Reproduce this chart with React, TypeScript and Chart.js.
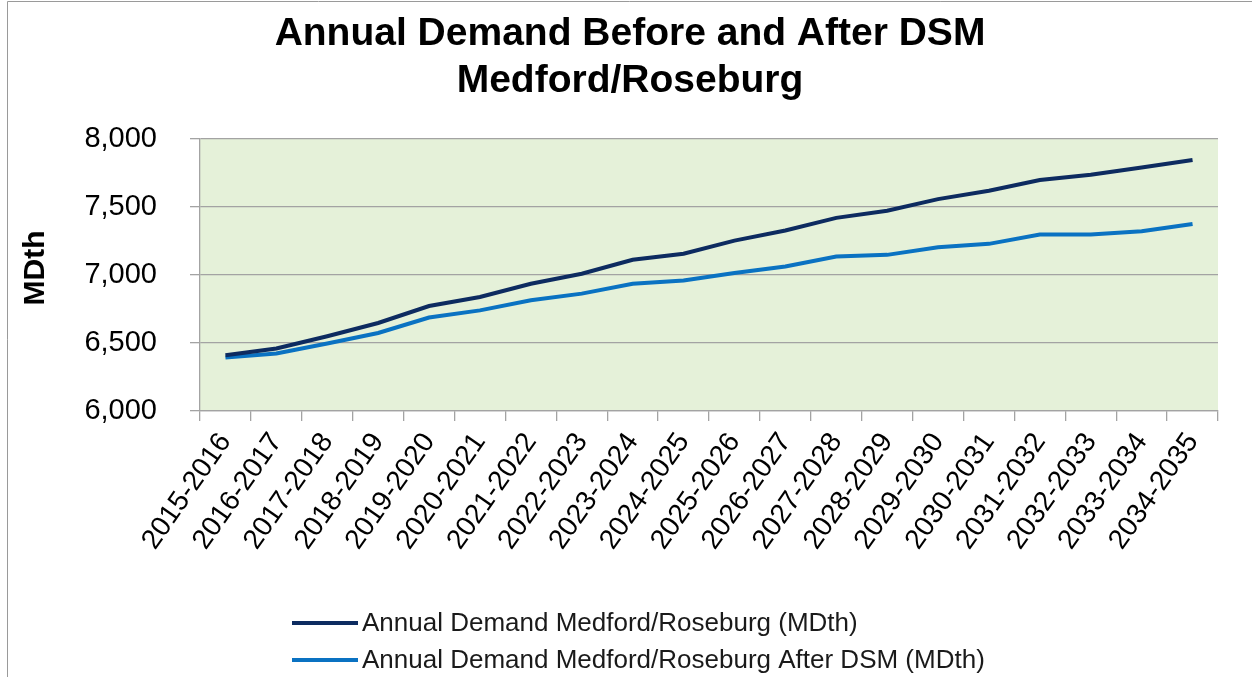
import React, { useEffect, useRef } from "react";
import { Chart, registerables } from "chart.js";

Chart.register(...registerables);

const categories = [
  "2015-2016", "2016-2017", "2017-2018", "2018-2019", "2019-2020",
  "2020-2021", "2021-2022", "2022-2023", "2023-2024", "2024-2025",
  "2025-2026", "2026-2027", "2027-2028", "2028-2029", "2029-2030",
  "2030-2031", "2031-2032", "2032-2033", "2033-2034", "2034-2035",
];

const demandBefore = [
  6410, 6460, 6550, 6647, 6772, 6838, 6936, 7009, 7112, 7156,
  7253, 7327, 7420, 7473, 7558, 7620, 7698, 7737, 7791, 7845,
];

const demandAfterDSM = [
  6394, 6423, 6496, 6574, 6687, 6740, 6814, 6863, 6936, 6960,
  7014, 7063, 7136, 7148, 7204, 7229, 7297, 7297, 7321, 7375,
];

const seriesLabels = [
  "Annual Demand Medford/Roseburg (MDth)",
  "Annual Demand Medford/Roseburg After DSM (MDth)",
];

const titleLines = ["Annual Demand Before and After DSM", "Medford/Roseburg"];
const yAxisTitle = "MDth";

const FONT = '"Liberation Sans", Arial, Helvetica, sans-serif';
const GRID = "#a3a3a3";

const bgPlugin = {
  id: "plotBg",
  beforeDraw(chart: any) {
    const { ctx, chartArea } = chart;
    ctx.save();
    ctx.fillStyle = "#e5f1d9";
    ctx.fillRect(chartArea.left, chartArea.top, chartArea.right - chartArea.left, chartArea.bottom - chartArea.top);
    // outer frame (top & left)
    ctx.strokeStyle = "#9a9a9a";
    ctx.lineWidth = 1;
    ctx.beginPath();
    ctx.moveTo(7.5, chart.height);
    ctx.lineTo(7.5, 1.5);
    ctx.lineTo(chart.width, 1.5);
    ctx.stroke();
    ctx.restore();
  },
};

const textPlugin = {
  id: "customText",
  afterDraw(chart: any) {
    const { ctx } = chart;
    ctx.save();
    // chart title
    ctx.fillStyle = "#000";
    ctx.textAlign = "center";
    ctx.textBaseline = "middle";
    ctx.font = `bold 39px ${FONT}`;
    titleLines.forEach((t, i) => ctx.fillText(t, 630, 34 + i * 47));
    // y axis title
    ctx.save();
    ctx.translate(36, 268);
    ctx.rotate(-Math.PI / 2);
    ctx.font = `bold 30px ${FONT}`;
    ctx.fillText(yAxisTitle, 0, 0);
    ctx.restore();
    // legend
    ctx.font = `26px ${FONT}`;
    ctx.textAlign = "left";
    chart.data.datasets.forEach((ds: any, i: number) => {
      const y = 623 + i * 37;
      ctx.strokeStyle = ds.borderColor;
      ctx.lineWidth = 4;
      ctx.beginPath();
      ctx.moveTo(292, y);
      ctx.lineTo(358, y);
      ctx.stroke();
      ctx.fillStyle = "#1a1a1a";
      ctx.fillText(ds.label, 362, y + 1);
    });
    ctx.restore();
  },
};

export default function App() {
  const ref = useRef<HTMLCanvasElement>(null);

  useEffect(() => {
    document.body.style.margin = "0";
    const canvas = ref.current;
    if (!canvas) return;
    const chart = new Chart(canvas, {
      type: "line",
      data: {
        labels: categories,
        datasets: [
          {
            label: seriesLabels[0],
            data: demandBefore,
            borderColor: "#0d2b60",
            backgroundColor: "#0d2b60",
            borderWidth: 4,
            pointRadius: 0,
            tension: 0,
          },
          {
            label: seriesLabels[1],
            data: demandAfterDSM,
            borderColor: "#0a72c2",
            backgroundColor: "#0a72c2",
            borderWidth: 4,
            pointRadius: 0,
            tension: 0,
          },
        ],
      },
      options: {
        responsive: false,
        animation: false,
        layout: { padding: { top: 139, left: 0, right: 34, bottom: 0 } },
        plugins: {
          legend: { display: false },
          tooltip: { enabled: false },
          title: { display: false },
        },
        scales: {
          x: {
            type: "category",
            offset: true,
            afterFit(scale: any) {
              scale.height = 266;
            },
            grid: {
              offset: true,
              drawOnChartArea: false,
              drawTicks: true,
              tickLength: 10,
              color: GRID,
              lineWidth: 1.3,
            },
            border: { display: true, color: GRID, width: 1.3 },
            ticks: {
              color: "#000",
              font: { family: FONT, size: 28 },
              minRotation: 55,
              maxRotation: 55,
              autoSkip: false,
              padding: 6,
            },
          },
          y: {
            min: 6000,
            max: 8000,
            afterFit(scale: any) {
              scale.width = 200;
            },
            grid: {
              color: GRID,
              lineWidth: 1.3,
              tickLength: 10,
            },
            border: { display: true, color: GRID, width: 1.3 },
            ticks: {
              stepSize: 500,
              color: "#000",
              font: { family: FONT, size: 29 },
              padding: 33,
              callback: (v: any) => Number(v).toLocaleString("en-US"),
            },
          },
        },
      },
      plugins: [bgPlugin, textPlugin],
    });
    return () => chart.destroy();
  }, []);

  return (
    <div style={{ width: 1252, height: 677, position: "relative" }}>
      <canvas ref={ref} width={1252} height={677} style={{ display: "block" }} />
    </div>
  );
}
